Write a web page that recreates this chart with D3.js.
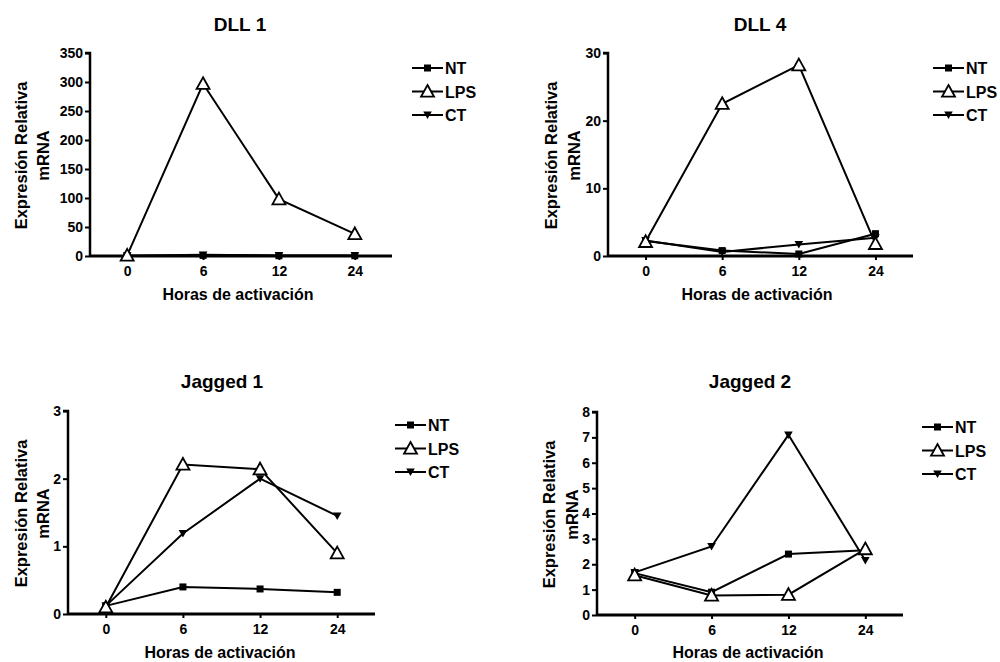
<!DOCTYPE html>
<html><head><meta charset="utf-8">
<script src="https://cdn.jsdelivr.net/npm/d3@7"></script>
<style>
body{margin:0;background:#fff;}
text{font-family:"Liberation Sans",Arial,sans-serif;font-weight:bold;fill:#000;}
</style></head>
<body><svg id="c" width="1000" height="662"></svg>
<script>
const hours = ["0","6","12","24"];
const seriesNames = ["NT","LPS","CT"];
const titles = ["DLL 1","DLL 4","Jagged 1","Jagged 2"];
const yMax = [350, 30, 3, 8];
const yTicks = [
  [0,50,100,150,200,250,300,350],
  [0,10,20,30],
  [0,1,2,3],
  [0,1,2,3,4,5,6,7,8]
];
// values per panel: NT, LPS, CT
const dll1NT  = [0.5, 1, 0.5, 0.5];
const dll1LPS = [1, 297, 98, 38];
const dll1CT  = [0.5, 2, 1, 1];
const dll4NT  = [2.2, 0.8, 0.3, 3.3];
const dll4LPS = [2.1, 22.5, 28.2, 1.8];
const dll4CT  = [2.3, 0.6, 1.7, 2.7];
const jag1NT  = [0.12, 0.40, 0.37, 0.32];
const jag1LPS = [0.10, 2.21, 2.14, 0.90];
const jag1CT  = [0.12, 1.19, 2.00, 1.45];
const jag2NT  = [1.65, 0.90, 2.40, 2.55];
const jag2LPS = [1.57, 0.77, 0.80, 2.60];
const jag2CT  = [1.68, 2.70, 7.10, 2.15];
const panelData = [
  [dll1NT, dll1LPS, dll1CT],
  [dll4NT, dll4LPS, dll4CT],
  [jag1NT, jag1LPS, jag1CT],
  [jag2NT, jag2LPS, jag2CT]
];

// layout
const layouts = [
  {x0:90,  x1:392, yTop:53,  yBot:256, titleX:240, titleY:31,  ylab1:27,  ylab2:49,  xlabX:238, xlabY:300, legX:412, legY:68},
  {x0:608, x1:913, yTop:53,  yBot:256, titleX:760, titleY:31,  ylab1:557, ylab2:580, xlabX:757, xlabY:300, legX:933, legY:68},
  {x0:68,  x1:375, yTop:411, yBot:614, titleX:222, titleY:388, ylab1:27,  ylab2:49,  xlabX:220, xlabY:658, legX:395, legY:425},
  {x0:597, x1:903, yTop:412, yBot:615, titleX:750, titleY:388, ylab1:555, ylab2:578, xlabX:748, xlabY:658, legX:922, legY:427}
];

const svg = d3.select("#c");

function marker(g, type, x, y){
  if(type==="NT"){
    g.append("rect").attr("x",x-3.5).attr("y",y-3.5).attr("width",7).attr("height",7).attr("fill","#000");
  } else if(type==="LPS"){
    const s=6.5;
    g.append("path").attr("d",`M${x},${y-s} L${x+s},${y+s*0.8} L${x-s},${y+s*0.8} Z`)
      .attr("fill","#fff").attr("stroke","#000").attr("stroke-width",1.8);
  } else {
    const s=4.3;
    g.append("path").attr("d",`M${x-s},${y-s*0.8} L${x+s},${y-s*0.8} L${x},${y+s*0.95} Z`).attr("fill","#000");
  }
}

layouts.forEach((L,i)=>{
  const g = svg.append("g");
  const x = d3.scalePoint().domain(hours).range([L.x0, L.x1]).padding(0.49);
  const y = d3.scaleLinear().domain([0, yMax[i]]).range([L.yBot, L.yTop]);

  // axes
  const ya = g.append("g").attr("transform",`translate(${L.x0},0)`)
    .call(d3.axisLeft(y).tickValues(yTicks[i]).tickSize(5).tickPadding(2).tickFormat(d3.format("d")));
  ya.select(".domain").attr("stroke-width",2.5).attr("d",`M-5,${L.yTop}H0V${L.yBot}`);
  ya.selectAll(".tick line").attr("stroke-width",2);
  ya.selectAll("text").style("font-size","14px");

  const xa = g.append("g").attr("transform",`translate(0,${L.yBot})`)
    .call(d3.axisBottom(x).tickSize(4).tickPadding(6));
  xa.select(".domain").attr("stroke-width",2.8).attr("d",`M${L.x0},0H${L.x1}`);
  xa.selectAll(".tick line").attr("stroke-width",2);
  xa.selectAll("text").style("font-size","14px");

  // title
  g.append("text").attr("x",L.titleX).attr("y",L.titleY).attr("text-anchor","middle")
    .style("font-size","19px").text(titles[i]);
  // y label
  const yc = (L.yTop+L.yBot)/2 + 1;
  g.append("text").attr("transform",`translate(${L.ylab1},${yc}) rotate(-90)`)
    .attr("text-anchor","middle").style("font-size","16.5px").text("Expresión Relativa");
  g.append("text").attr("transform",`translate(${L.ylab2},${yc}) rotate(-90)`)
    .attr("text-anchor","middle").style("font-size","16.5px").text("mRNA");
  // x label
  g.append("text").attr("x",L.xlabX).attr("y",L.xlabY).attr("text-anchor","middle")
    .style("font-size","16px").text("Horas de activación");

  // lines
  const line = d3.line().x((d,j)=>x(hours[j])).y(d=>y(d));
  panelData[i].forEach((vals,k)=>{
    g.append("path").attr("d",line(vals)).attr("fill","none").attr("stroke","#000").attr("stroke-width",2);
  });
  [0,2,1].forEach(k=>{
    panelData[i][k].forEach((v,j)=>marker(g, seriesNames[k], x(hours[j]), y(v)));
  });

  // legend
  seriesNames.forEach((nm,k)=>{
    const ly = L.legY + k*23.5;
    g.append("line").attr("x1",L.legX).attr("x2",L.legX+31).attr("y1",ly).attr("y2",ly)
      .attr("stroke","#000").attr("stroke-width",2);
    marker(g, nm, L.legX+15.5, ly);
    g.append("text").attr("x",L.legX+33).attr("y",ly+6).style("font-size","16px").text(nm);
  });
});
</script></body></html>
